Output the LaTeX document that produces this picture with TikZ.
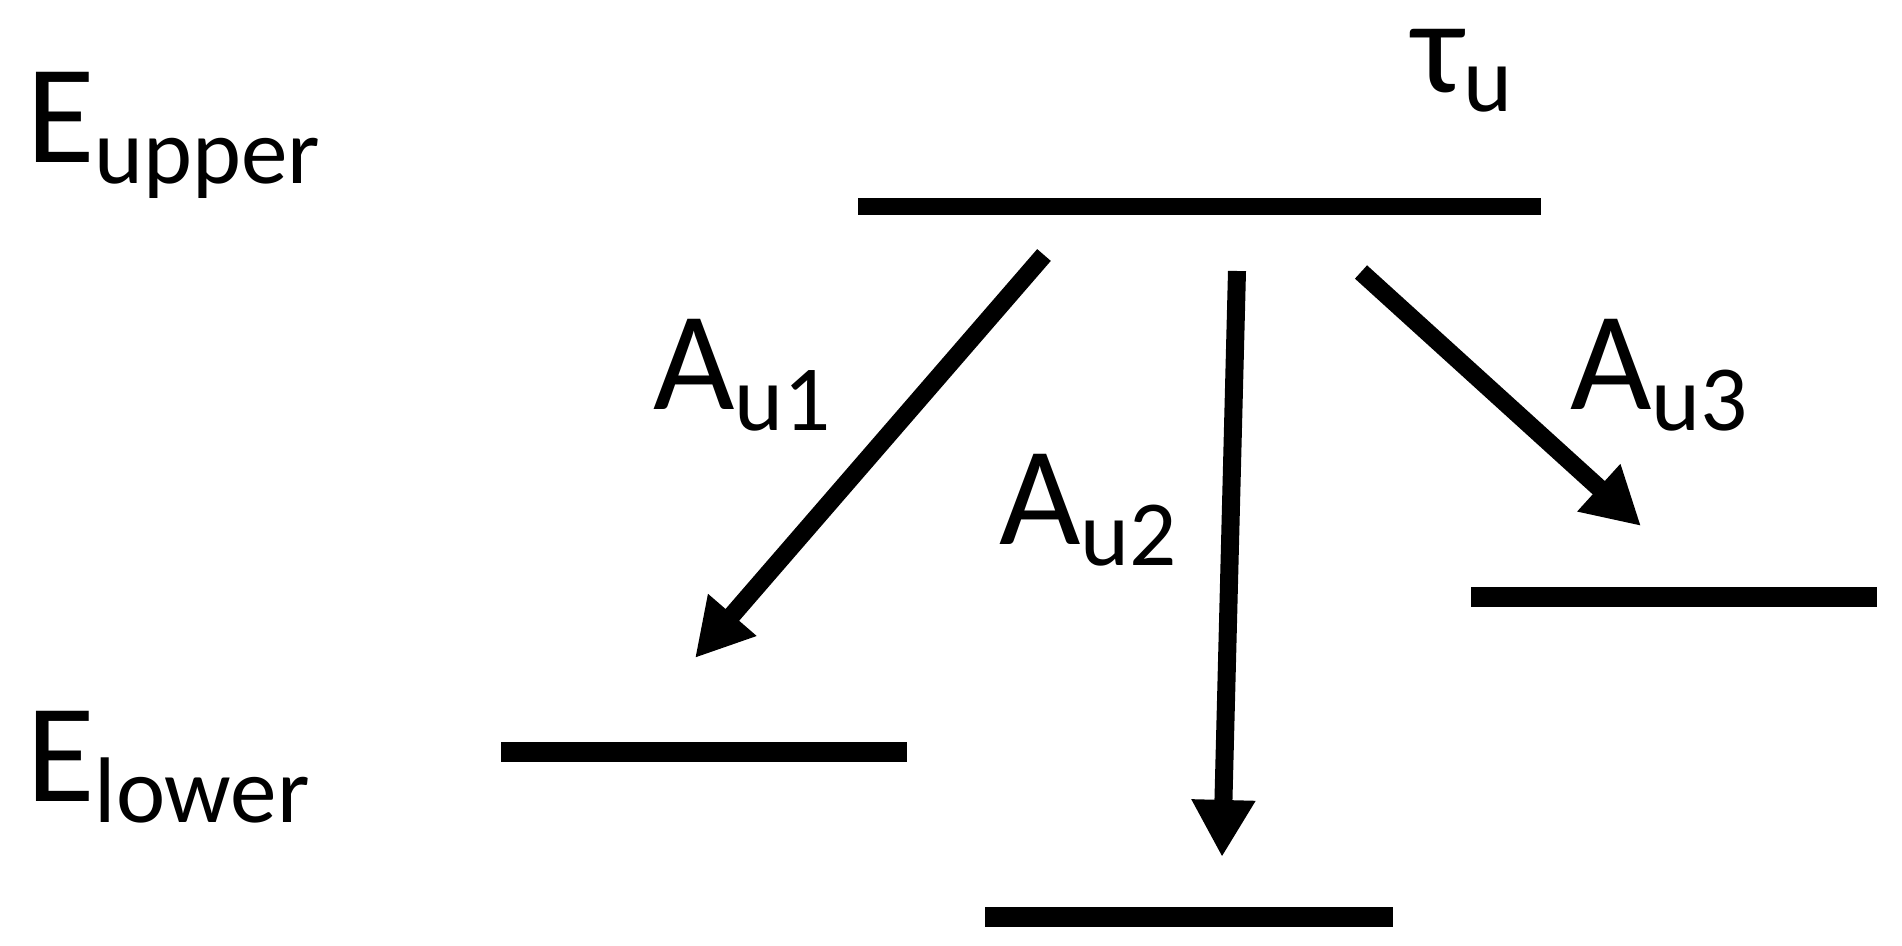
\documentclass[tikz,border=0pt]{standalone}
\usepackage{fontspec}
\setmainfont{Carlito}
\usetikzlibrary{arrows.meta}
\newcommand\levlabel[2]{{\fontsize{40pt}{40pt}\selectfont #1}\raisebox{-0.2cm}{\fontsize{26.5pt}{26.5pt}\selectfont #2}}
\begin{document}
\begin{tikzpicture}[x=0.01cm,y=-0.01cm,
  level/.style={line width=0.19cm},
  trans/.style={line width=0.18cm,-{Triangle[length=0.57cm,width=0.6cm]}},
  lbl/.style={inner sep=0pt,outer sep=0pt,anchor=base west}]
\useasboundingbox (0,0) rectangle (1902,946);
\fill[white] (0,0) rectangle (1902,946);

% energy levels
\draw[level,line width=0.17cm] (858,207) coordinate (upL) -- (1541,207) coordinate (upR);
\draw[level] (501,752) coordinate (loL) -- (907,752) coordinate (loR);
\draw[level] (985,917) coordinate (boL) -- (1393,917) coordinate (boR);
\draw[level] (1471,597) coordinate (riL) -- (1877,597) coordinate (riR);

% transition end points
\coordinate (a1s) at (1044,255);
\coordinate (a1e) at (695,658);
\coordinate (a2s) at (1237,271);
\coordinate (a2e) at (1222,857);
\coordinate (a3s) at (1361,272);
\coordinate (a3e) at (1641,526);

\draw[trans] (a1s) -- (a1e);
\draw[trans] (a2s) -- (a2e);
\draw[trans] (a3s) -- (a3e);

% labels
\node[lbl] (eupper) at (26,163) {\levlabel{E}{upper}};
\node[lbl] (elower) at (26,802) {\levlabel{E}{lower}};
\node[lbl] (tau) at (1412,93) {\fontsize{38pt}{38pt}\selectfont τ\raisebox{-0.18cm}{\fontsize{26.5pt}{26.5pt}\selectfont u}};
\node[lbl] (au1) at (653,410) {\levlabel{A}{u1}};
\node[lbl] (au2) at (999,545) {\levlabel{A}{u2}};
\node[lbl] (au3) at (1570,410) {\levlabel{A}{u3}};
\end{tikzpicture}
\end{document}
